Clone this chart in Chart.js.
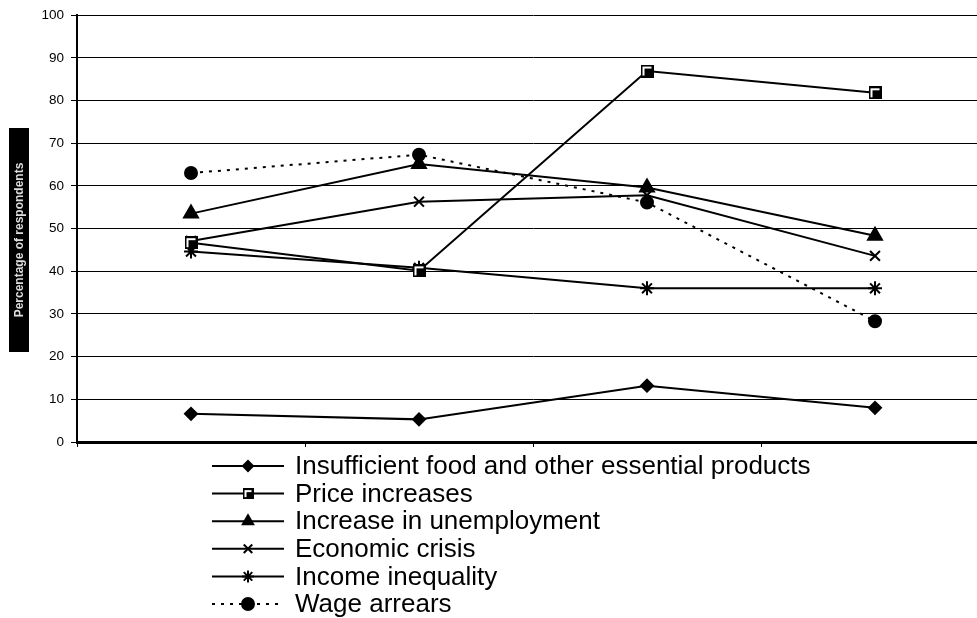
<!DOCTYPE html>
<html>
<head>
<meta charset="utf-8">
<script src="https://cdn.jsdelivr.net/npm/chart.js@4/dist/chart.umd.min.js"></script>
<style>
  html, body { margin: 0; padding: 0; background: #fff; }
  #wrap { width: 977px; height: 618px; overflow: hidden; position: relative; }
  #chart { display: block; width: 999px; height: 618px; }
</style>
</head>
<body>
<div id="wrap"><canvas id="chart" width="999" height="618"></canvas></div>
<script>
// categories are not labelled in the original
const categories = ["1", "2", "3", "4"];
const yTicks = [0, 10, 20, 30, 40, 50, 60, 70, 80, 90, 100];

const seriesNames = [
    "Insufficient food and other essential products",
    "Price increases",
    "Increase in unemployment",
    "Economic crisis",
    "Income inequality",
    "Wage arrears"
];
const insufficientFood = [6.6, 5.3, 13.2, 8.0];
const priceIncreases = [46.7, 40.1, 86.9, 81.8];
const unemployment = [53.5, 65.1, 59.6, 48.3];
const economicCrisis = [47.1, 56.3, 57.8, 43.6];
const incomeInequality = [44.6, 40.8, 36.0, 36.0];
const wageArrears = [63.0, 67.3, 56.1, 28.3];

// square marker with the white inner edge
function squareMarker(size) {
    const c = document.createElement("canvas");
    c.width = size; c.height = size;
    const g = c.getContext("2d");
    g.fillStyle = "#000";
    g.fillRect(0, 0, size, size);
    g.fillStyle = "#fff";
    g.fillRect(2, 2, size - 4, size - 4);
    g.fillStyle = "#000";
    g.fillRect(4, 4, size - 6, size - 6);
    return c;
}

const markers = [
    { style: "rectRot", radius: 6 },
    { style: squareMarker(13), radius: 6 },
    { style: "triangle", radius: 8 },
    { style: "crossRot", radius: 7 },
    { style: "star", radius: 7 },
    { style: "circle", radius: 6 }
];
const legendMarkers = [
    { style: "rectRot", radius: 5 },
    { style: squareMarker(11), radius: 5 },
    { style: "triangle", radius: 6 },
    { style: "crossRot", radius: 6 },
    { style: "star", radius: 6 },
    { style: "circle", radius: 6 }
];

const allValues = [insufficientFood, priceIncreases, unemployment, economicCrisis, incomeInequality, wageArrears];

const datasets = allValues.map((vals, i) => ({
    label: seriesNames[i],
    data: vals,
    borderColor: "#000",
    backgroundColor: "#000",
    borderWidth: 2,
    borderDash: i === 5 ? [3, 6] : [],
    pointStyle: markers[i].style,
    pointRadius: markers[i].radius,
    pointBorderWidth: 2,
    pointBackgroundColor: "#000",
    pointBorderColor: "#000",
    tension: 0
}));

const yTitleBox = {
    id: "yTitleBox",
    afterDraw(chart) {
        const ctx = chart.ctx;
        ctx.save();
        ctx.fillStyle = "#000";
        ctx.fillRect(9, 128, 20, 224);
        ctx.translate(20, 240);
        ctx.rotate(-Math.PI / 2);
        ctx.fillStyle = "#ddd";
        ctx.font = "bold 12px 'Liberation Sans', Arial, sans-serif";
        ctx.textAlign = "center";
        ctx.textBaseline = "middle";
        ctx.fillText("Percentage of respondents", 0, 0);
        ctx.restore();
    }
};

const customLegend = {
    id: "customLegend",
    afterDraw(chart) {
        const ctx = chart.ctx;
        ctx.save();
        ctx.font = "26px 'Liberation Sans', Arial, sans-serif";
        ctx.textBaseline = "middle";
        seriesNames.forEach((name, i) => {
            const y = 466 + i * 27.6;
            ctx.strokeStyle = "#000";
            ctx.lineWidth = 2;
            ctx.setLineDash(i === 5 ? [3, 6] : []);
            ctx.beginPath();
            ctx.moveTo(212, y);
            ctx.lineTo(284, y);
            ctx.stroke();
            ctx.setLineDash([]);
            ctx.fillStyle = "#000";
            Chart.helpers.drawPoint(ctx, {
                pointStyle: legendMarkers[i].style,
                radius: legendMarkers[i].radius,
                rotation: 0,
                borderWidth: 2
            }, 248, y);
            ctx.fillStyle = "#000";
            ctx.fillText(name, 295, y + 1);
        });
        ctx.restore();
    }
};

new Chart(document.getElementById("chart"), {
    type: "line",
    data: { labels: categories, datasets },
    options: {
        responsive: false,
        animation: false,
        layout: { padding: { top: 15, left: 0, right: 0, bottom: 0 } },
        plugins: { legend: { display: false }, tooltip: { enabled: false } },
        scales: {
            x: {
                offset: true,
                grid: { offset: true, drawOnChartArea: false, drawTicks: true, tickLength: 5, color: "#000", lineWidth: 1 },
                border: { color: "#000", width: 3 },
                ticks: { display: false },
                afterFit(scale) { scale.height = 176; }
            },
            y: {
                min: 0,
                max: 100,
                afterBuildTicks(scale) { scale.ticks = yTicks.map(v => ({ value: v })); },
                grid: { color: "#000", lineWidth: 1, tickLength: 6 },
                border: { color: "#000", width: 2 },
                ticks: {
                    color: "#000",
                    padding: 7,
                    font: { family: "'Liberation Sans', Arial, sans-serif", size: 13.5 }
                },
                afterFit(scale) { scale.width = 77; }
            }
        }
    },
    plugins: [yTitleBox, customLegend]
});
</script>
</body>
</html>
